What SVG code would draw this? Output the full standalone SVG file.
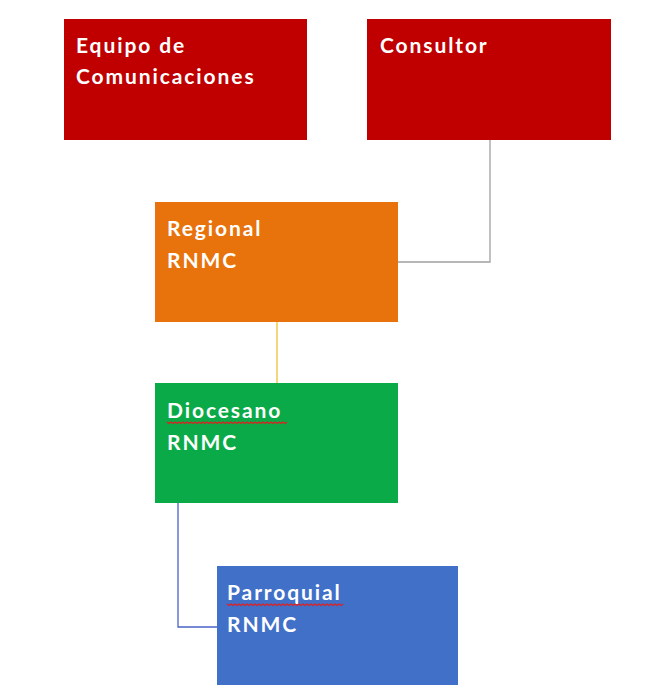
<svg xmlns="http://www.w3.org/2000/svg" width="662" height="698" viewBox="0 0 662 698">
<style>
.lbl{font-family:Lato,"Open Sans","Liberation Sans",sans-serif;font-weight:bold;font-size:21px;fill:#ffffff;letter-spacing:1.9px}
.conn{fill:none;stroke-width:1.3}
.wavy{fill:none;stroke:#e02020;stroke-width:1.2}
</style>
<rect width="662" height="698" fill="#ffffff"/>
<g id="connectors">
<path class="conn" stroke="#a0a0a0" d="M490,140 V262 H398"/>
<path class="conn" stroke="#f2c12e" d="M277,322 V383"/>
<path class="conn" stroke="#4a63c8" d="M178,503 V627 H217"/>
</g>
<g id="equipo">
<rect x="64" y="19" width="243" height="121" fill="#c00000"/>
<text class="lbl" x="76" y="53">Equipo de</text>
<text class="lbl" x="76" y="84">Comunicaciones</text>
</g>
<g id="consultor">
<rect x="367" y="19" width="244" height="121" fill="#c00000"/>
<text class="lbl" x="380" y="53">Consultor</text>
</g>
<g id="regional">
<rect x="155" y="202" width="243" height="120" fill="#e8720c"/>
<text class="lbl" x="167" y="236">Regional</text>
<text class="lbl" x="167" y="268">RNMC</text>
</g>
<g id="diocesano">
<rect x="155" y="383" width="243" height="120" fill="#0aaa48"/>
<text class="lbl" x="167" y="418">Diocesano</text>
<text class="lbl" x="167" y="450">RNMC</text>
<path class="wavy" d="M167,422 l2,1.5 l2,-1.5 l2,1.5 l2,-1.5 l2,1.5 l2,-1.5 l2,1.5 l2,-1.5 l2,1.5 l2,-1.5 l2,1.5 l2,-1.5 l2,1.5 l2,-1.5 l2,1.5 l2,-1.5 l2,1.5 l2,-1.5 l2,1.5 l2,-1.5 l2,1.5 l2,-1.5 l2,1.5 l2,-1.5 l2,1.5 l2,-1.5 l2,1.5 l2,-1.5 l2,1.5 l2,-1.5 l2,1.5 l2,-1.5 l2,1.5 l2,-1.5 l2,1.5 l2,-1.5 l2,1.5 l2,-1.5 l2,1.5 l2,-1.5 l2,1.5 l2,-1.5 l2,1.5 l2,-1.5 l2,1.5 l2,-1.5 l2,1.5 l2,-1.5 l2,1.5 l2,-1.5 l2,1.5 l2,-1.5 l2,1.5 l2,-1.5 l2,1.5 l2,-1.5 l2,1.5 l2,-1.5 l2,1.5 l2,-1.5"/>
</g>
<g id="parroquial">
<rect x="217" y="566" width="241" height="119" fill="#4170c8"/>
<text class="lbl" x="227" y="600">Parroquial</text>
<text class="lbl" x="227" y="632">RNMC</text>
<path class="wavy" d="M227,604 l2,1.5 l2,-1.5 l2,1.5 l2,-1.5 l2,1.5 l2,-1.5 l2,1.5 l2,-1.5 l2,1.5 l2,-1.5 l2,1.5 l2,-1.5 l2,1.5 l2,-1.5 l2,1.5 l2,-1.5 l2,1.5 l2,-1.5 l2,1.5 l2,-1.5 l2,1.5 l2,-1.5 l2,1.5 l2,-1.5 l2,1.5 l2,-1.5 l2,1.5 l2,-1.5 l2,1.5 l2,-1.5 l2,1.5 l2,-1.5 l2,1.5 l2,-1.5 l2,1.5 l2,-1.5 l2,1.5 l2,-1.5 l2,1.5 l2,-1.5 l2,1.5 l2,-1.5 l2,1.5 l2,-1.5 l2,1.5 l2,-1.5 l2,1.5 l2,-1.5 l2,1.5 l2,-1.5 l2,1.5 l2,-1.5 l2,1.5 l2,-1.5 l2,1.5 l2,-1.5 l2,1.5 l2,-1.5"/>
</g>
</svg>
